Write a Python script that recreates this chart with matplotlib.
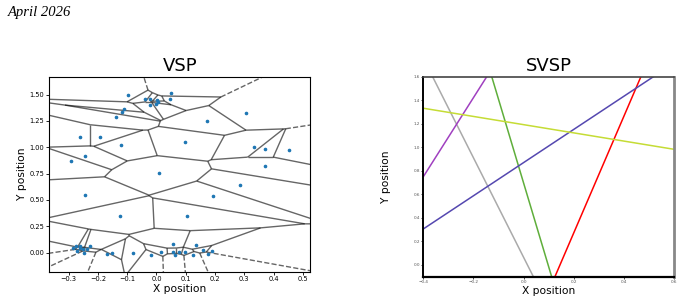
"""vsp_svsp"""

import numpy as np
import matplotlib
matplotlib.use("Agg")
from matplotlib import pyplot as plt
from matplotlib import tri as mtri
from matplotlib.collections import LineCollection

# Puntos del diagrama de Voronoi
puntos_x = [-0.099, -0.040, -0.022, 0.003, 0.004, -0.022, -0.002, 0.049, 0.046,
            -0.111, -0.118, -0.139, -0.260, -0.193, -0.121, -0.245, -0.292, 0.007,
            0.305, 0.171, 0.096, 0.335, 0.370, 0.452, 0.370, -0.243, -0.124,
            0.285, 0.192, 0.104,
            -0.285, -0.274, -0.271, -0.260, -0.252, -0.249, -0.239, -0.229, -0.262,
            -0.169, -0.152, -0.079, -0.019, 0.016, 0.055, 0.058, 0.062, 0.078,
            0.096, 0.125, 0.135, 0.159, 0.175, 0.189]
puntos_y = [1.498, 1.460, 1.455, 1.447, 1.428, 1.405, 1.410, 1.515, 1.455,
            1.364, 1.336, 1.291, 1.101, 1.101, 1.022, 0.920, 0.870, 0.760,
            1.323, 1.250, 1.050, 1.003, 0.987, 0.974, 0.825, 0.542, 0.346,
            0.638, 0.536, 0.350,
            0.048, 0.067, 0.014, 0.064, 0.033, -0.003, 0.032, 0.060, 0.040,
            -0.015, -0.003, -0.008, -0.025, 0.006, 0.080, 0.007, -0.024, 0.007,
            0.005, -0.022, 0.068, 0.023, -0.014, 0.014]

# Rectas del SVSP: dos puntos por recta
rectas_p1 = [(-0.363, 1.6), (-0.4, 0.75), (-0.127, 1.6), (0.125, -0.1), (-0.4, 0.306), (-0.4, 1.332)]
rectas_p2 = [(0.039, -0.1), (-0.147, 1.6), (0.112, -0.1), (0.468, 1.6), (0.518, 1.6), (0.6, 0.983)]
rectas_color = ["#aaaaaa", "#a040c0", "#5fae3b", "#ff0000", "#5548b0", "#c5dc35"]


def circuncentros(pts, tris):
    a, b, c = pts[tris[:, 0]], pts[tris[:, 1]], pts[tris[:, 2]]
    d = 2 * (a[:, 0] * (b[:, 1] - c[:, 1]) + b[:, 0] * (c[:, 1] - a[:, 1]) + c[:, 0] * (a[:, 1] - b[:, 1]))
    a2 = (a ** 2).sum(1)
    b2 = (b ** 2).sum(1)
    c2 = (c ** 2).sum(1)
    ux = (a2 * (b[:, 1] - c[:, 1]) + b2 * (c[:, 1] - a[:, 1]) + c2 * (a[:, 1] - b[:, 1])) / d
    uy = (a2 * (c[:, 0] - b[:, 0]) + b2 * (a[:, 0] - c[:, 0]) + c2 * (b[:, 0] - a[:, 0])) / d
    return np.column_stack([ux, uy])


def voronoi(ax, x, y):
    pts = np.column_stack([x, y])
    t = mtri.Triangulation(x, y)
    vert = circuncentros(pts, t.triangles)
    centro = pts.mean(axis=0)
    ptp = np.ptp(pts, axis=0)
    finitos, infinitos = [], []
    for i, tri in enumerate(t.triangles):
        for j in range(3):
            n = t.neighbors[i, j]
            if n > i:
                finitos.append([vert[i], vert[n]])
            elif n == -1:
                p0, p1 = pts[tri[j]], pts[tri[(j + 1) % 3]]
                tg = (p1 - p0) / np.linalg.norm(p1 - p0)
                nor = np.array([-tg[1], tg[0]])
                medio = (p0 + p1) / 2
                dirc = np.sign(np.dot(medio - centro, nor)) * nor
                lejos = vert[i] + dirc * ptp.max() * abs(ptp.max() / ptp.min())
                infinitos.append([vert[i], lejos])
    ax.add_collection(LineCollection(finitos, colors="k", lw=1.0, alpha=0.6))
    ax.add_collection(LineCollection(infinitos, colors="k", lw=1.0, alpha=0.6, linestyle="dashed"))
    ax.plot(x, y, ".", markersize=3.2, color="C0")
    ax.set_xlim(pts[:, 0].min() - 0.1 * ptp[0], pts[:, 0].max() + 0.1 * ptp[0])
    ax.set_ylim(pts[:, 1].min() - 0.1 * ptp[1], pts[:, 1].max() + 0.1 * ptp[1])


fig = plt.figure(figsize=(6.83, 3.04), dpi=100)
fig.text(0.011, 0.96, "April 2026", family="Liberation Serif", style="italic", fontsize=10.5, va="center")

ax1 = fig.add_axes([0.0722, 0.1069, 0.3824, 0.6408])
voronoi(ax1, np.array(puntos_x), np.array(puntos_y))
ax1.set_xticks([-0.3, -0.2, -0.1, 0.0, 0.1, 0.2, 0.3, 0.4, 0.5])
ax1.set_yticks([0.0, 0.25, 0.5, 0.75, 1.0, 1.25, 1.5])
ax1.tick_params(labelsize=4.8, length=2, width=0.6, pad=1.5)
ax1.set_title("VSP", fontsize=13, pad=4)
ax1.set_xlabel("X position", fontsize=7.7, labelpad=1)
ax1.set_ylabel("Y position", fontsize=7.7, labelpad=2)

ax2 = fig.add_axes([0.6198, 0.0898, 0.3670, 0.6579])
for p1, p2, col in zip(rectas_p1, rectas_p2, rectas_color):
    ax2.axline(p1, p2, color=col, lw=1.1)
ax2.set_xlim(-0.4, 0.6)
ax2.set_ylim(-0.1, 1.6)
ax2.set_xticks(np.round(np.arange(-0.4, 0.61, 0.2), 1))
ax2.set_yticks(np.round(np.arange(0.0, 1.61, 0.2), 1))
ax2.tick_params(labelsize=3, length=1.5, width=0.5, pad=1, labelcolor="#555555")
ax2.spines["left"].set_linewidth(1.4)
ax2.spines["bottom"].set_linewidth(1.6)
ax2.spines["top"].set_linewidth(1.2)
ax2.spines["top"].set_color("#444444")
ax2.spines["right"].set_linewidth(2.0)
ax2.spines["right"].set_color("#888888")
ax2.set_title("SVSP", fontsize=13, pad=4)
ax2.set_xlabel("X position", fontsize=7.7)
ax2.set_ylabel("Y position", fontsize=7.7)
ax2.xaxis.set_label_coords(0.5, -0.045)
ax2.yaxis.set_label_coords(-0.13, 0.5)

fig.savefig("out.png", dpi=100)
